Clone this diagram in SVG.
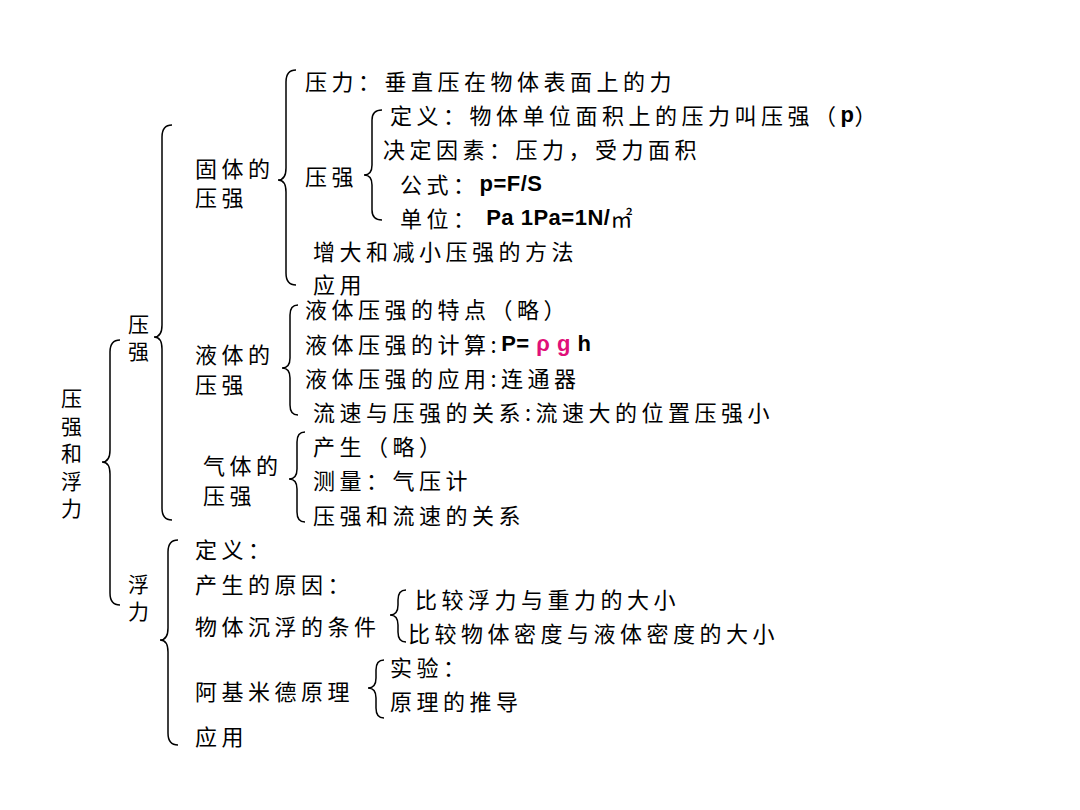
<svg xmlns="http://www.w3.org/2000/svg" width="1080" height="810" viewBox="0 0 1080 810">
<style>
text{font-family:"Noto Sans CJK SC","Liberation Sans",sans-serif;font-size:22px;letter-spacing:4.5px;fill:#000;dominant-baseline:central}
.v{font-size:21px;letter-spacing:0}
.b{font-family:"Liberation Sans","Noto Sans CJK SC",sans-serif;font-weight:bold;letter-spacing:0.5px}
.m{fill:#e0107a}
path{fill:none;stroke:#000;stroke-width:1.5}
</style>
<rect width="1080" height="810" fill="#fff"/>
<g id="connectors">
<path d="M120,340 Q110,340 110,352 L110,450 Q110,462 102,462 Q110,462 110,474 L110,593 Q110,605 120,605"/>
<path d="M172,125 Q162,125 162,137 L162,325 Q162,337 154,337 Q162,337 162,349 L162,508 Q162,520 172,520"/>
<path d="M178,540 Q168,540 168,552 L168,628 Q168,640 160,640 Q168,640 168,652 L168,733 Q168,745 178,745"/>
<path d="M296,70 Q286,70 286,82 L286,168 Q286,180 278,180 Q286,180 286,192 L286,273 Q286,285 296,285"/>
<path d="M382,110 Q372,110 372,120 L372,165 Q372,175 364,175 Q372,175 372,185 L372,210 Q372,220 382,220"/>
<path d="M298,305 Q290,305 290,315 L290,358 Q290,368 282,368 Q290,368 290,378 L290,405 Q290,415 298,415"/>
<path d="M305,432 Q297,432 297,442 L297,469 Q297,479 289,479 Q297,479 297,489 L297,512 Q297,522 305,522"/>
<path d="M406,590 Q398,590 398,600 L398,605 Q398,615 390,615 Q398,615 398,625 L398,632 Q398,642 406,642"/>
<path d="M384,660 Q376,660 376,670 L376,678 Q376,688 368,688 Q376,688 376,698 L376,708 Q376,718 384,718"/>
</g>
<g id="root"><text class="v" x="61" y="397">压</text><text class="v" x="61" y="425">强</text><text class="v" x="61" y="452">和</text><text class="v" x="61" y="480">浮</text><text class="v" x="61" y="507">力</text></g>
<g id="yaqiang"><text class="v" x="128" y="323">压</text><text class="v" x="128" y="350">强</text></g>
<g id="fuli"><text class="v" x="128" y="583">浮</text><text class="v" x="128" y="610">力</text></g>
<g id="guti"><text x="195" y="167">固体的</text><text x="195" y="196">压强</text></g>
<g id="n1"><text x="305" y="80">压力：垂直压在物体表面上的力</text></g>
<g id="n2"><text x="305" y="175">压强</text></g>
<g id="n3"><text x="390" y="114">定义：物体单位面积上的压力叫压强（<tspan class="b">p</tspan>）</text></g>
<g id="n4"><text x="383" y="148">决定因素：压力，受力面积</text></g>
<g id="n5"><text x="400" y="183">公式：<tspan class="b">p=F/S</tspan></text></g>
<g id="n6"><text x="400" y="217">单位：<tspan class="b"> Pa  1Pa=1N/</tspan>㎡</text></g>
<g id="n7"><text x="313" y="250">增大和减小压强的方法</text></g>
<g id="n8"><text x="313" y="283">应用</text></g>
<g id="yeti"><text x="195" y="353">液体的</text><text x="195" y="383">压强</text></g>
<g id="n9"><text x="305" y="308">液体压强的特点（略）</text></g>
<g id="n10"><text x="305" y="343">液体压强的计算:<tspan class="b">P= </tspan><tspan class="b m">ρ g</tspan><tspan class="b"> h</tspan></text></g>
<g id="n11"><text x="305" y="377">液体压强的应用:连通器</text></g>
<g id="n12"><text x="313" y="411">流速与压强的关系:流速大的位置压强小</text></g>
<g id="qiti"><text x="203" y="464">气体的</text><text x="203" y="494">压强</text></g>
<g id="n13"><text x="313" y="445">产生（略）</text></g>
<g id="n14"><text x="313" y="479">测量：气压计</text></g>
<g id="n15"><text x="313" y="514">压强和流速的关系</text></g>
<g id="n16"><text x="195" y="548">定义：</text></g>
<g id="n17"><text x="195" y="583">产生的原因：</text></g>
<g id="n18"><text x="195" y="625">物体沉浮的条件</text></g>
<g id="n19"><text x="415" y="598">比较浮力与重力的大小</text></g>
<g id="n20"><text x="408" y="632">比较物体密度与液体密度的大小</text></g>
<g id="n21"><text x="195" y="690">阿基米德原理</text></g>
<g id="n22"><text x="390" y="666">实验：</text></g>
<g id="n23"><text x="390" y="700">原理的推导</text></g>
<g id="n24"><text x="195" y="735">应用</text></g>
</svg>
